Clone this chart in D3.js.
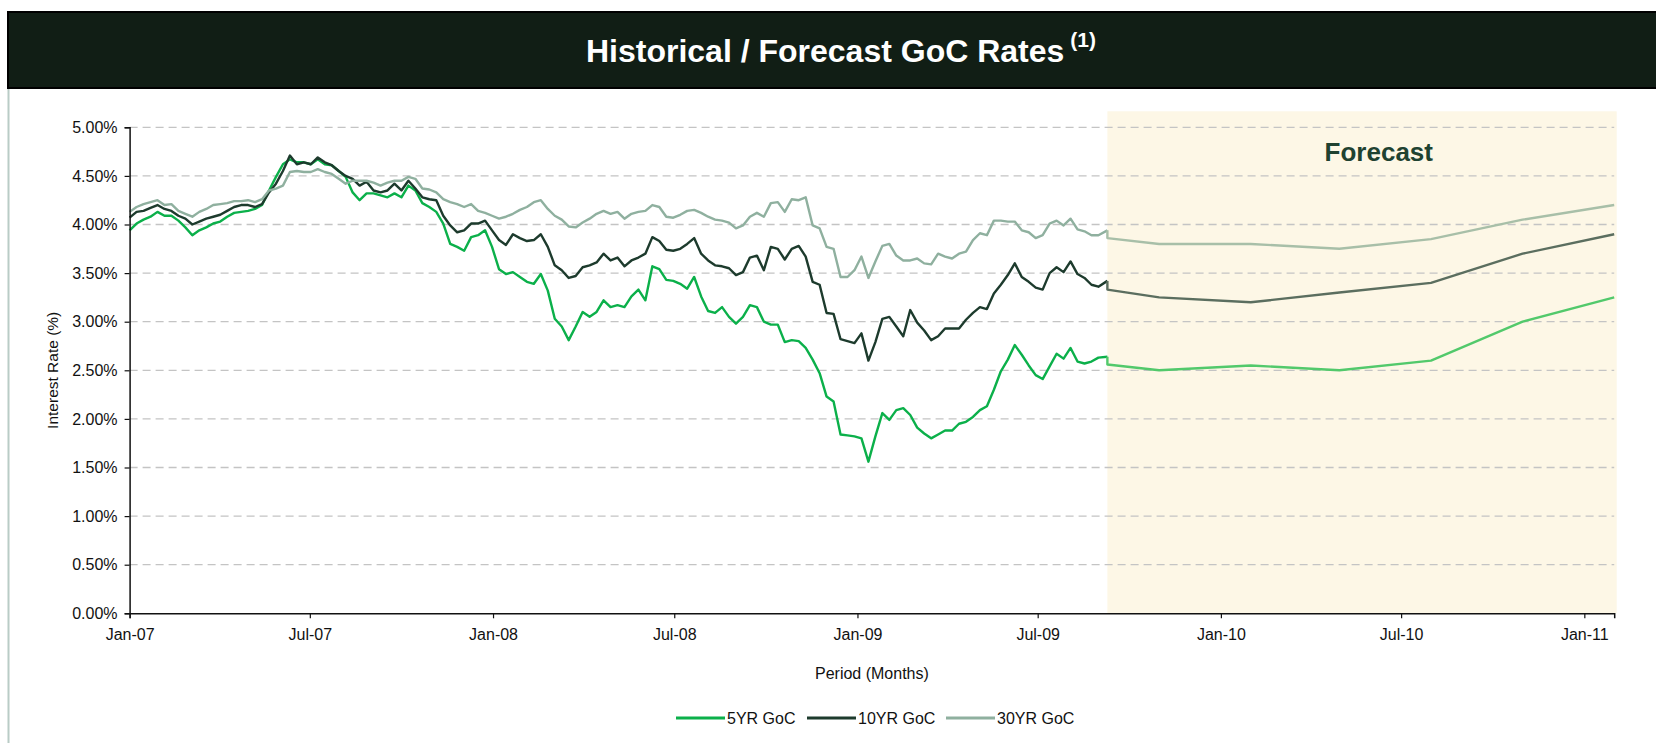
<!DOCTYPE html>
<html>
<head>
<meta charset="utf-8">
<script src="https://cdn.jsdelivr.net/npm/d3@7"></script>
<style>
body { margin: 0; background: #fff; }
text { font-family: "Liberation Sans", Arial, sans-serif; }
</style>
</head>
<body>
<script>
// weekly observations from histStart, last one on histEnd
var histStart = "2007-01-01";
var histWeeklyStop = "2009-09-02";
var histEnd = "2009-09-09";

var rate5 = [
    3.94, 4.01, 4.05, 4.08, 4.13, 4.09, 4.09, 4.04, 3.97, 3.89, 3.94, 3.97, 4.01, 4.03, 4.08, 4.12, 4.13, 4.14, 4.16, 4.20,
    4.35, 4.49, 4.62, 4.67, 4.64, 4.64, 4.62, 4.67, 4.62, 4.61, 4.55, 4.49, 4.33, 4.25, 4.32,
    4.32, 4.30, 4.28, 4.32, 4.28, 4.40, 4.35, 4.22, 4.18, 4.13, 4.01, 3.80, 3.77, 3.73, 3.87, 3.89, 3.94, 3.77, 3.54, 3.49,
    3.51, 3.46, 3.41, 3.39, 3.49, 3.32, 3.03, 2.95, 2.81, 2.95, 3.10, 3.05, 3.10, 3.22, 3.15,
    3.17, 3.15, 3.26, 3.33, 3.22, 3.57, 3.54, 3.43, 3.42, 3.39, 3.34, 3.46, 3.26, 3.11, 3.09, 3.15, 3.05, 2.98, 3.05, 3.17,
    3.15, 3.00, 2.97, 2.97, 2.79, 2.81, 2.80, 2.73, 2.61, 2.47, 2.23, 2.18, 1.84, 1.83, 1.82,
    1.80, 1.56, 1.82, 2.06, 1.99, 2.09, 2.11, 2.04, 1.91, 1.85, 1.80, 1.84, 1.88, 1.88, 1.95, 1.97, 2.02, 2.09, 2.13, 2.30,
    2.49, 2.61, 2.76, 2.66, 2.55, 2.45, 2.41, 2.54, 2.67, 2.62, 2.73, 2.59, 2.57, 2.59, 2.63,
    2.64
];

var rate10 = [
    4.07, 4.13, 4.14, 4.17, 4.20, 4.16, 4.14, 4.09, 4.06, 4.00, 4.03, 4.06, 4.08, 4.10, 4.14, 4.18, 4.20, 4.20, 4.18, 4.21,
    4.33, 4.42, 4.55, 4.71, 4.62, 4.64, 4.62, 4.69, 4.64, 4.61, 4.55, 4.50, 4.47, 4.40, 4.44,
    4.35, 4.33, 4.35, 4.42, 4.35, 4.45, 4.37, 4.28, 4.26, 4.25, 4.09, 3.99, 3.92, 3.94, 4.01, 4.01, 4.04, 3.94, 3.84, 3.79,
    3.90, 3.86, 3.83, 3.84, 3.90, 3.77, 3.58, 3.53, 3.45, 3.47, 3.56, 3.58, 3.61, 3.70, 3.63,
    3.66, 3.57, 3.63, 3.66, 3.70, 3.87, 3.83, 3.74, 3.73, 3.75, 3.80, 3.86, 3.70, 3.63, 3.58, 3.57, 3.55, 3.48, 3.51, 3.66,
    3.68, 3.53, 3.77, 3.75, 3.64, 3.75, 3.78, 3.67, 3.41, 3.38, 3.09, 3.08, 2.82, 2.80, 2.78,
    2.88, 2.60, 2.79, 3.03, 3.05, 2.95, 2.85, 3.12, 2.99, 2.91, 2.81, 2.85, 2.93, 2.93, 2.93, 3.02, 3.09, 3.15, 3.13, 3.29,
    3.38, 3.48, 3.60, 3.46, 3.41, 3.35, 3.33, 3.50, 3.56, 3.51, 3.62, 3.49, 3.45, 3.38, 3.36,
    3.42
];

var rate30 = [
    4.13, 4.18, 4.21, 4.23, 4.25, 4.20, 4.21, 4.14, 4.11, 4.08, 4.13, 4.16, 4.20, 4.21, 4.22, 4.24, 4.24, 4.25, 4.23, 4.26,
    4.35, 4.37, 4.40, 4.54, 4.55, 4.54, 4.54, 4.57, 4.54, 4.52, 4.47, 4.42, 4.45, 4.45, 4.45,
    4.43, 4.40, 4.43, 4.45, 4.45, 4.49, 4.47, 4.37, 4.36, 4.33, 4.26, 4.23, 4.21, 4.18, 4.21, 4.14, 4.12, 4.09, 4.06, 4.08,
    4.11, 4.15, 4.18, 4.23, 4.25, 4.16, 4.09, 4.05, 3.98, 3.97, 4.02, 4.06, 4.11, 4.14, 4.11,
    4.13, 4.06, 4.11, 4.13, 4.14, 4.20, 4.18, 4.08, 4.07, 4.10, 4.14, 4.15, 4.12, 4.08, 4.05, 4.04, 4.02, 3.96, 3.99, 4.08,
    4.12, 4.08, 4.22, 4.23, 4.13, 4.26, 4.25, 4.28, 3.99, 3.96, 3.77, 3.75, 3.46, 3.46, 3.53,
    3.67, 3.45, 3.62, 3.78, 3.80, 3.68, 3.63, 3.63, 3.65, 3.60, 3.59, 3.70, 3.67, 3.65, 3.70, 3.72, 3.84, 3.91, 3.89, 4.04,
    4.04, 4.03, 4.03, 3.94, 3.92, 3.86, 3.89, 4.01, 4.04, 3.99, 4.06, 3.95, 3.93, 3.89, 3.89,
    3.94
];

// forecast
var fcDates = ["2009-09-09", "2009-10-31", "2010-01-31", "2010-04-30", "2010-07-31", "2010-10-31", "2011-01-31"];
var fc5 = [2.56, 2.50, 2.55, 2.50, 2.60, 3.00, 3.25];
var fc10 = [3.33, 3.25, 3.20, 3.30, 3.40, 3.70, 3.90];
var fc30 = [3.86, 3.80, 3.80, 3.75, 3.85, 4.05, 4.20];

var seriesNames = ["5YR GoC", "10YR GoC", "30YR GoC"];
var histColors = ["#0bb04a", "#1d3b2d", "#8fb09f"];
var fcColors = ["#52c96b", "#5b6e5f", "#a8bfa8"];

var yTicks = [0, 0.5, 1, 1.5, 2, 2.5, 3, 3.5, 4, 4.5, 5];
var axisStart = "2007-01-01";
var axisEnd = "2011-01-31";

var parseDate = d3.timeParse("%Y-%m-%d");

var histDates = d3.timeDay.range(parseDate(histStart), parseDate(histWeeklyStop), 7);
histDates.push(parseDate(histEnd));

var svgWidth = 1656, svgHeight = 743;
var plot = {left: 129.6, right: 1614.2, top: 127.3, bottom: 613.3};

var svg = d3.select("body").append("svg")
    .attr("width", svgWidth)
    .attr("height", svgHeight);

// frame bits
svg.append("line")
    .attr("x1", 8.5).attr("x2", 8.5)
    .attr("y1", 88).attr("y2", svgHeight)
    .attr("stroke", "#b9ccc6")
    .attr("stroke-width", 2);

svg.append("rect")
    .attr("x", 8)
    .attr("y", 12)
    .attr("width", svgWidth)
    .attr("height", 76)
    .attr("fill", "#111e15")
    .attr("stroke", "#000")
    .attr("stroke-width", 2);

var title = svg.append("text")
    .attr("x", 841)
    .attr("y", 62)
    .attr("text-anchor", "middle")
    .attr("fill", "#fff")
    .attr("font-weight", "bold")
    .attr("font-size", 32);
title.append("tspan").text("Historical / Forecast GoC Rates");
title.append("tspan").attr("font-size", 21).attr("dx", 6).attr("dy", -15).text("(1)");

// scales
var x = d3.scaleTime()
    .domain([parseDate(axisStart), parseDate(axisEnd)])
    .range([plot.left, plot.right]);

var y = d3.scaleLinear()
    .domain([0, 5])
    .range([plot.bottom, plot.top]);

// forecast shading
var fcX0 = x(parseDate(fcDates[0]));
svg.append("rect")
    .attr("class", "forecast-band")
    .attr("x", fcX0)
    .attr("y", plot.top - 16)
    .attr("width", plot.right + 2.5 - fcX0)
    .attr("height", plot.bottom - plot.top + 16)
    .attr("fill", "#fdf7e6");

svg.append("text")
    .attr("x", (fcX0 + plot.right) / 2 + 18)
    .attr("y", 161)
    .attr("text-anchor", "middle")
    .attr("fill", "#1f4231")
    .attr("font-weight", "bold")
    .attr("font-size", 26)
    .text("Forecast");

// gridlines
svg.append("g")
    .attr("class", "gridlines")
    .selectAll("line")
    .data(yTicks.filter(function (d) { return d > 0; }))
    .enter().append("line")
    .attr("x1", plot.left)
    .attr("x2", plot.right)
    .attr("y1", function (d) { return y(d); })
    .attr("y2", function (d) { return y(d); })
    .attr("stroke", "#c4c4c4")
    .attr("stroke-width", 1.3)
    .attr("stroke-dasharray", "8,5");

// lines
var line = d3.line()
    .x(function (d) { return x(d.date); })
    .y(function (d) { return y(d.value); });

var histSeries = [rate5, rate10, rate30];
var fcSeries = [fc5, fc10, fc30];

histSeries.forEach(function (values, i) {
    var pts = values.map(function (v, j) { return {date: histDates[j], value: v}; });
    svg.append("path")
        .datum(pts)
        .attr("fill", "none")
        .attr("stroke", histColors[i])
        .attr("stroke-width", 2.4)
        .attr("stroke-linejoin", "round")
        .attr("d", line);
});

fcSeries.forEach(function (values, i) {
    var pts = values.map(function (v, j) { return {date: parseDate(fcDates[j]), value: v}; });
    var last = histSeries[i][histSeries[i].length - 1];
    pts.unshift({date: histDates[histDates.length - 1], value: last});
    svg.append("path")
        .datum(pts)
        .attr("fill", "none")
        .attr("stroke", fcColors[i])
        .attr("stroke-width", 2.4)
        .attr("stroke-linejoin", "round")
        .attr("d", line);
});

// axes
var yAxis = d3.axisLeft(y)
    .tickValues(yTicks)
    .tickSize(5)
    .tickPadding(7)
    .tickFormat(function (d) { return d3.format(".2f")(d) + "%"; });

var xAxis = d3.axisBottom(x)
    .ticks(d3.timeMonth.every(6))
    .tickSize(5)
    .tickPadding(10)
    .tickFormat(d3.timeFormat("%b-%y"));

var gy = svg.append("g")
    .attr("transform", "translate(" + plot.left + ",0)")
    .call(yAxis);

var gx = svg.append("g")
    .attr("transform", "translate(0," + plot.bottom + ")")
    .call(xAxis);

[gx, gy].forEach(function (g) {
    g.select(".domain").attr("stroke", "#111").attr("stroke-width", 1.5);
    g.selectAll(".tick line").attr("stroke", "#111").attr("stroke-width", 1.2);
    g.selectAll(".tick text")
        .attr("fill", "#111")
        .attr("font-size", 16)
        .attr("font-family", "'Liberation Sans', Arial, sans-serif");
});

// axis titles
svg.append("text")
    .attr("transform", "translate(53," + ((plot.top + plot.bottom) / 2) + ") rotate(-90)")
    .attr("text-anchor", "middle")
    .attr("dy", "0.35em")
    .attr("font-size", 15.5)
    .attr("fill", "#111")
    .text("Interest Rate (%)");

svg.append("text")
    .attr("x", (plot.left + plot.right) / 2)
    .attr("y", 679)
    .attr("text-anchor", "middle")
    .attr("font-size", 16)
    .attr("fill", "#111")
    .text("Period (Months)");

// legend
var legendX = [676, 807, 946];
var legend = svg.append("g")
    .attr("class", "legend")
    .selectAll("g")
    .data(seriesNames)
    .enter().append("g")
    .attr("transform", function (d, i) { return "translate(" + legendX[i] + ",718)"; });

legend.append("line")
    .attr("x1", 0)
    .attr("x2", 49)
    .attr("stroke", function (d, i) { return histColors[i]; })
    .attr("stroke-width", 2.8);

legend.append("text")
    .attr("x", 51)
    .attr("dy", "0.35em")
    .attr("font-size", 16)
    .attr("fill", "#111")
    .text(function (d) { return d; });
</script>
</body>
</html>
